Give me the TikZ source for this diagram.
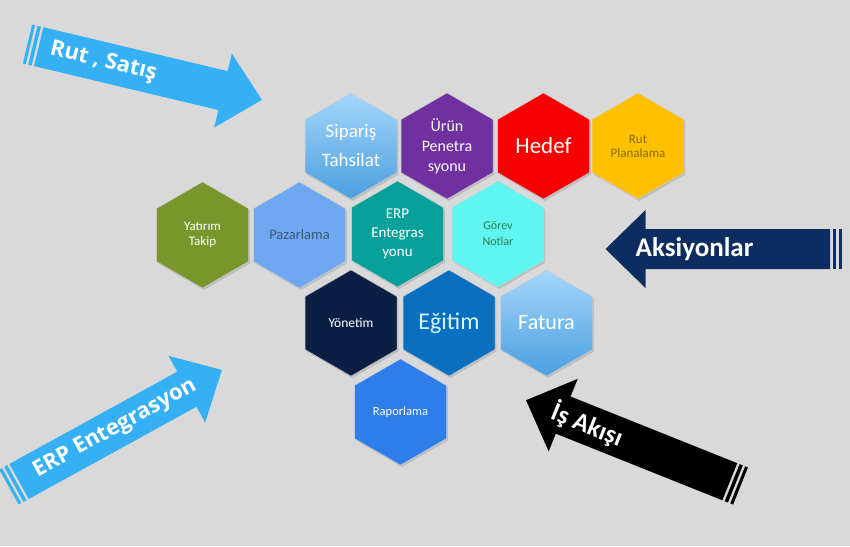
\documentclass[tikz,border=0pt]{standalone}
\usepackage{fontspec}
\usepackage{tikz}
\usetikzlibrary{shapes.geometric, shadows}
\newfontfamily\hexfont{Carlito}
\newfontfamily\arrowfont{Open Sans}
\definecolor{bggray}{HTML}{D9D9D9}
\definecolor{skyblue}{HTML}{35B0F5}
\definecolor{navyarrow}{HTML}{0D2D60}
\definecolor{paletop}{HTML}{A6D6FA}
\definecolor{palebot}{HTML}{4A9FE0}
\definecolor{purplehex}{HTML}{7030A0}
\definecolor{redhex}{HTML}{F80000}
\definecolor{goldhex}{HTML}{FFC000}
\definecolor{goldtext}{HTML}{8A6A00}
\definecolor{olivehex}{HTML}{78962B}
\definecolor{cornhex}{HTML}{6FA8F0}
\definecolor{corntext}{HTML}{3F5872}
\definecolor{tealhex}{HTML}{08A19A}
\definecolor{aquahex}{HTML}{5FF5F0}
\definecolor{aquatext}{HTML}{2E7D4F}
\definecolor{navyhex}{HTML}{0B1F45}
\definecolor{bluehex}{HTML}{0B6FC0}
\definecolor{bluetext}{HTML}{D6F5FF}
\definecolor{raphex}{HTML}{2E7DE9}
\tikzstyle{hexa} = [regular polygon, regular polygon sides=6, shape border rotate=30, minimum size=106pt, inner sep=0pt, draw=black!18, line width=0.3pt, align=center, drop shadow={shadow xshift=1.5pt, shadow yshift=-2pt, opacity=0.3}]
\tikzstyle{arrowtext} = [text=white, font=\arrowfont\bfseries\fontsize{22}{22}\selectfont, inner sep=0pt]

\begin{document}
\begin{tikzpicture}[x=1pt, y=-1pt]
% Background
\useasboundingbox (0,0) rectangle (850,546);
\fill[bggray] (0,0) rectangle (850,546);

% Top row of hexagons
\node[hexa, top color=paletop, bottom color=palebot, text=white, font=\hexfont\fontsize{19}{29}\selectfont] (siparis) at (351,146) {Sipariş\\Tahsilat};
\node[hexa, fill=purplehex, text=white, font=\hexfont\fontsize{16}{20}\selectfont] (urun) at (447,146) {Ürün\\Penetra\\syonu};
\node[hexa, fill=redhex, text=white, font=\hexfont\fontsize{23}{25}\selectfont] (hedef) at (543.5,146) {Hedef};
\node[hexa, fill=goldhex, text=goldtext, font=\hexfont\fontsize{13}{14}\selectfont] (rutplan) at (638,146) {Rut\\Planalama};

% Second row
\node[hexa, fill=olivehex, text=white, font=\hexfont\fontsize{13}{14.5}\selectfont] (yatirim) at (202.5,235) {Yatırım\\Takip};
\node[hexa, fill=cornhex, text=corntext, font=\hexfont\fontsize{14.5}{16}\selectfont] (pazarlama) at (299.5,235) {Pazarlama};
\node[hexa, fill=tealhex, text=white, font=\hexfont\fontsize{15}{19}\selectfont] (erp) at (397.5,234) {ERP\\Entegras\\yonu};
\node[hexa, fill=aquahex, text=aquatext, font=\hexfont\fontsize{12}{16}\selectfont] (gorev) at (498,234) {Görev\\Notlar};

% Third row
\node[hexa, fill=navyhex, text=white, font=\hexfont\fontsize{13.5}{15}\selectfont] (yonetim) at (351,323) {Yönetim};
\node[hexa, fill=bluehex, text=bluetext, font=\hexfont\fontsize{24}{26}\selectfont] (egitim) at (449,323) {Eğitim};
\node[hexa, top color=paletop, bottom color=palebot, text=white, font=\hexfont\fontsize{22}{24}\selectfont] (fatura) at (546.5,323) {Fatura};

% Bottom hexagon
\node[hexa, fill=raphex, text=white, font=\hexfont\fontsize{12.5}{14}\selectfont] (raporlama) at (400.5,412) {Raporlama};

% Arrow: Rut , Satis
\begin{scope}[shift={(27.5,44)}, rotate=-13.4]
\fill[skyblue] (0,-20) rectangle (3,20); % outer stripe
\fill[skyblue] (5.5,-20) rectangle (9,20); % inner stripe
\fill[skyblue] (11.5,-20) -- (201,-20) -- (201,-38) -- (241,0) -- (201,38) -- (201,20) -- (11.5,20) -- cycle; % body and head
\node[arrowtext, rotate=-13.4] (rutsatis) at (78,0) {Rut , Satış};
\end{scope}

% Arrow: ERP Entegrasyon
\begin{scope}[shift={(9,487)}, rotate=28.8]
\fill[skyblue] (0,-20) rectangle (3,20); % outer stripe
\fill[skyblue] (5.5,-20) rectangle (9,20); % inner stripe
\fill[skyblue] (11.5,-20) -- (203,-20) -- (203,-38) -- (243,0) -- (203,38) -- (203,20) -- (11.5,20) -- cycle; % body and head
\node[arrowtext, rotate=28.8] (erparrow) at (121,0) {ERP Entegrasyon};
\end{scope}

% Arrow: Aksiyonlar
\begin{scope}[shift={(841.5,249)}, rotate=180]
\fill[navyarrow] (0,-20) rectangle (3,20); % outer stripe
\fill[navyarrow] (5.5,-20) rectangle (9,20); % inner stripe
\fill[navyarrow] (11.5,-20) -- (196,-20) -- (196,-39) -- (236,0) -- (196,39) -- (196,20) -- (11.5,20) -- cycle; % body and head
\node[arrowtext, font=\hexfont\bfseries\fontsize{27}{27}\selectfont] (aksiyon) at (147,0) {Aksiyonlar};
\end{scope}

% Arrow: Is Akisi
\begin{scope}[shift={(740.5,486)}, rotate=158.2]
\fill[black] (0,-20) rectangle (3,20); % outer stripe
\fill[black] (5.5,-20) rectangle (9,20); % inner stripe
\fill[black] (11.5,-20) -- (191,-20) -- (191,-39) -- (231,0) -- (191,39) -- (191,20) -- (11.5,20) -- cycle; % body and head
\node[arrowtext, rotate=-21.8, font=\hexfont\bfseries\fontsize{26}{26}\selectfont] (isakisi) at (165,0) {İş Akışı};
\end{scope}

\end{tikzpicture}
\end{document}
